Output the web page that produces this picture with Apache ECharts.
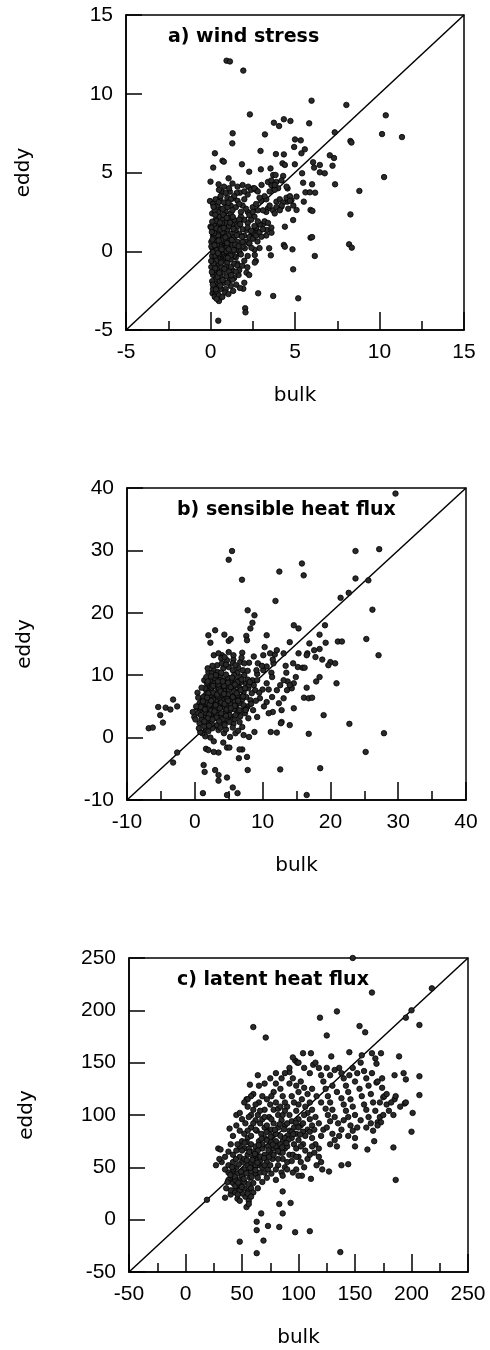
<!DOCTYPE html>
<html>
<head>
<meta charset="utf-8">
<script src="https://cdn.jsdelivr.net/npm/echarts@6/dist/echarts.min.js"></script>
<style>html,body{margin:0;padding:0;background:#fff}#c{width:490px;height:1350px}</style>
</head>
<body>
<div id="c"></div>
<script>
// ---- tick labels ----
var windTicks = [-5, 0, 5, 10, 15];
var sensTicks = [-10, 0, 10, 20, 30, 40];
var latTicks = [-50, 0, 50, 100, 150, 200, 250];

// ---- panel titles / axis names ----
var panelTitles = ['a) wind stress', 'b) sensible heat flux', 'c) latent heat flux'];
var xName = 'bulk';
var yName = 'eddy';

// ---- a) wind stress: [bulk, eddy] ----
var windStress = [
[0.95,12.1],[1.15,12.05],[1.94,11.47],[5.98,9.56],[8.04,9.29],[2.33,8.69],[10.37,8.63],[3.75,8.16],[4.06,7.95],[4.34,8.38],[4.73,8.27],[5.84,8.12],[1.31,7.49],[1.29,6.85],[3.22,7.42],[7.35,7.55],[10.15,7.44],[11.33,7.25],[5.0,7.1],[5.34,7.04],[8.28,7.0],[8.34,6.9],[0.26,6.22],[2.96,6.37],[4.95,6.62],[5.58,6.47],[3.87,6.17],[4.34,6.15],[5.38,6.22],[7.06,6.09],[7.31,5.92],[0.71,5.75],[0.79,5.69],[0.16,5.31],[1.86,5.52],[4.26,5.58],[4.4,5.48],[4.99,5.52],[6.07,5.65],[6.47,5.48],[6.13,5.31],[7.22,5.43],[5.42,4.95],[6.47,5.01],[6.76,4.95],[2.29,5.05],[2.98,5.2],[3.55,5.26],[3.71,4.84],[3.85,4.84],[4.3,4.78],[0.0,4.42],[0.48,4.25],[1.07,4.63],[5.48,4.35],[6.01,4.25],[7.37,4.25],[10.27,4.71],[8.81,3.83],[8.28,2.34],[8.2,0.44],[8.36,0.23],[5.92,0.86],[6.01,0.9],[6.17,-0.3],[4.85,0.12],[4.34,0.4],[4.4,0.29],[3.47,0.19],[3.57,-0.26],[4.89,-1.15],[5.19,-2.99],[3.71,-2.84],[2.82,-2.67],[2.68,-0.62],[2.62,-0.24],[2.05,-3.62],[2.07,-3.88],[2.0,-2.0],[1.94,-2.38],[1.74,-2.33],[1.34,-2.52],[0.46,-4.41],[0.54,-2.99],[0.5,-3.16],[0.12,-2.67],[0.26,-2.78],[1.66,-1.51],[1.15,-1.83],[2.13,-1.36],[2.29,-1.51],[-0.03,3.19],[0.0,1.56],[4.89,1.98],[5.52,3.15],[5.92,2.62],[6.03,2.56],[4.4,1.56],[5.09,2.62],[5.62,3.74],[5.88,3.74],[6.19,3.72],[4.56,3.99],[5.09,3.47],[4.79,3.25],[4.54,3.15],
[3.02,4.21],[3.71,4.1],[3.9,3.15],[4.2,2.83],[3.7,2.6],[3.4,2.73],[1.74,3.72],[1.55,3.7],[1.15,3.78],[1.34,3.36],[0.66,3.78],[0.56,3.36],[0.85,3.04],[2.23,4.1],[2.53,4.0],[2.68,3.9],
[2.13,1.35],[2.43,1.14],[2.72,1.35],[3.12,1.73],[3.32,1.35],[3.61,1.18],[2.53,0.82],[2.29,0.5],[2.03,0.19],[1.74,-0.13],[1.58,-0.77],
[2.2,2.5],[2.5,2.8],[2.7,3.0],[3.0,3.2],[3.3,3.3],[3.5,3.8],[3.7,4.3],[3.9,4.4],[4.0,4.0],[3.6,4.2],[3.8,3.9],[4.1,3.3],[4.3,3.1],[4.5,3.4],[4.7,3.5],[4.2,2.9],[3.9,2.8],[3.5,2.9],[3.3,2.5],[3.1,2.6],[2.8,2.6],[2.6,2.2],[2.4,2.0],[2.2,1.8],[2.0,2.0],[1.8,2.2],[1.6,1.9],[2.9,1.7],[3.2,1.9],[3.4,1.8],[3.6,1.5],[2.7,1.5],[2.5,1.2],[2.3,0.9],[2.1,0.6],[1.9,0.3],[1.7,0.0],[1.5,-0.4],[1.4,-0.8],[1.3,-1.2],[1.2,-1.0],[2.0,3.3],[2.2,3.6],[2.4,3.9],[2.6,4.0],[2.8,3.8],[1.6,3.2],[1.4,3.5],[1.2,2.9],[1.0,3.4],[1.1,4.0],[1.6,4.1],[1.9,4.2],[4.6,2.7],[4.9,2.9],[4.7,3.2],[4.1,2.6],[3.8,2.4],[3.2,3.5],[2.9,3.4],[3.4,4.4],[3.6,4.5],[3.8,4.2],[4.2,4.5],[4.5,4.1],
[0.1,0.2],[0.2,0.5],[0.3,0.8],[0.15,1.0],[0.25,1.3],[0.4,1.6],[0.5,1.2],[0.6,0.9],[0.7,0.5],[0.8,0.2],[0.9,-0.1],[1.0,0.3],[1.1,0.7],[1.2,1.1],[1.0,1.4],[0.9,1.8],[0.7,2.0],[0.5,2.2],[0.3,2.0],[0.2,1.7],[0.1,-0.3],[0.2,-0.6],[0.3,-0.9],[0.4,-1.2],[0.5,-0.8],[0.6,-0.5],[0.7,-0.2],[0.8,-0.6],[0.9,-1.0],[1.0,-0.7],[0.15,-1.5],[0.3,-1.8],[0.45,-2.1],[0.6,-1.6],[0.75,-1.3],[0.05,0.6],[0.35,0.3],[0.55,0.0],[0.65,1.5],[0.85,1.1],[1.3,0.4],[1.4,0.9],[1.5,1.3],[1.3,1.7],[1.1,2.1],[0.9,2.5],[0.6,2.7],[0.4,2.9],[0.8,3.1],[1.0,2.8],[1.2,2.4],[1.4,2.0],[1.6,1.6],[1.7,1.1],[1.6,0.6],[1.5,0.1],[1.4,-0.3],[1.2,-0.5],[1.1,-1.3],[0.95,-1.6],[0.8,-2.0],[0.6,-2.4],[0.4,-2.6],[0.2,-2.2],[0.25,-2.9],[0.5,-2.8],[0.1,-1.9],[0.05,-1.0],[0.05,1.5],[0.1,2.4],[0.3,3.3],[0.6,3.5],[0.9,3.7],[1.2,3.3],[1.5,2.8],[1.8,2.5],[1.9,1.4],[2.0,1.0],[1.9,0.6],[1.8,-0.2],[1.6,-0.9],[1.4,-1.7],[1.2,-2.2],[0.7,-2.9],[0.45,-0.4],[0.55,0.45],[0.75,0.85],[0.35,1.45],[0.45,2.5],[0.7,1.2],[1.05,1.0],[0.85,-0.35],[0.25,0.05],[0.15,-0.05],[0.4,0.1],[0.6,0.25],[0.3,-0.3],[0.5,-0.2],[0.7,0.7],[0.9,0.6],[0.2,0.9],[0.35,-0.6],[0.65,-1.0],[0.05,0.3],[2.2,1.5],[2.4,1.3],[2.6,1.6],[2.8,1.9],[2.3,2.3],[2.5,2.5],[2.1,2.7],[1.9,2.9],[1.7,3.0],[2.0,3.8],[1.3,4.3],[0.8,4.1],[0.5,3.9],[2.3,0.5],[2.5,0.8],[2.7,1.0],[2.9,1.2],[3.1,1.4],[3.3,1.0],[2.9,0.2],[2.6,0.1],[2.2,-0.3],[2.0,-0.6],[1.7,-1.2],[1.3,-1.8],[1.5,-1.3],[0.35,-1.4],[0.55,-1.9],[0.15,-2.4],[0.9,-2.4],[1.0,-2.0],[0.25,2.6],[0.15,3.0],[0.8,2.3],[1.3,2.6],[1.7,2.0],[1.1,1.6],[0.95,0.0],[1.25,-0.2],[0.35,0.6],[0.45,1.0],[0.25,-1.2],
[0.12,0.75],[0.22,1.15],[0.38,0.42],[0.48,0.68],[0.58,1.38],[0.68,1.78],[0.78,1.48],[0.88,0.88],[0.98,0.52],[1.08,0.12],[1.18,-0.28],[0.18,-0.78],[0.28,-1.08],[0.42,-1.62],[0.52,-1.38],[0.62,-0.72],[0.72,-1.82],[0.82,-1.12],[0.92,-0.42],[0.08,-1.32],[0.14,-2.12],[0.32,-2.42],[0.58,-2.18],[0.36,1.92],[0.56,1.82],[0.76,2.32],[0.96,2.12],[1.16,1.82],[1.36,1.42],[1.56,1.02],[1.26,0.72],[1.46,0.42],[0.28,2.32],[0.18,2.82],[0.48,3.12],[0.72,2.68],[1.06,3.08],[1.32,2.18],[1.76,1.72],[1.86,0.92],[1.66,0.32],[1.38,0.08],[1.02,-0.42],[0.66,0.12],[0.44,-0.12],[0.24,0.38],[0.08,1.22],[0.1,1.88],[0.04,-0.62],[0.86,-2.62],[0.36,-3.02],[1.06,-2.72],[1.52,-2.12],[1.22,-1.52],[1.88,-0.92],[2.18,-1.02],[2.42,0.22],[2.78,0.62],[3.02,0.92],[2.62,-0.72]
];

// ---- b) sensible heat flux: [bulk, eddy] ----
var sensibleHeat = [
[29.6,39.1],[5.49,29.9],[5.0,28.5],[6.96,25.3],[12.47,26.6],[15.8,27.9],[16.06,26.0],[23.7,29.9],[27.2,30.2],[23.7,25.5],[25.6,25.2],[22.7,23.2],[21.5,22.4],[11.9,21.9],[26.2,20.5],[7.8,20.4],[8.8,19.6],[8.5,18.4],[8.2,17.5],[3.0,17.2],[2.0,16.4],[2.3,15.2],[4.36,16.5],[5.0,15.5],[5.3,15.8],[7.6,16.3],[7.7,15.6],[10.6,16.4],[14.6,18.0],[15.3,17.5],[19.2,18.0],[18.4,16.5],[19.3,15.2],[18.4,14.2],[21.1,15.4],[21.7,15.4],[25.3,15.8],[27.1,13.2],[14.0,15.3],[16.9,15.1],[16.6,13.5],[17.8,12.9],[18.8,12.5],[20.0,12.1],[20.7,11.9],[19.7,11.6],[18.4,9.7],[17.9,9.0],[20.9,8.7],[16.5,8.0],[16.1,6.4],[16.8,6.3],[17.3,6.4],[14.6,4.7],[12.8,4.4],[19.0,3.6],[22.8,2.2],[14.0,2.0],[12.8,2.5],[12.7,2.3],[16.8,0.6],[27.9,0.7],[25.2,-2.3],[18.5,-4.9],[12.6,-5.1],[16.5,-9.2],[4.75,-9.2],[6.3,-8.9],[5.6,-8.0],[1.2,-8.9],[1.3,-4.4],[1.45,-5.5],[3.0,-5.2],[3.5,-6.0],[3.5,-6.9],[4.75,-6.4],[7.8,-5.2],[6.5,-3.3],[7.7,-3.1],[7.0,-1.9],[6.6,-1.9],[4.75,-1.6],[5.1,-1.6],[3.5,-2.4],[2.8,-2.3],[1.65,-1.8],[2.0,-2.0],[8.8,0.9],[11.2,0.9],[12.1,0.8],[7.2,0.4],[8.0,0.1],[-2.6,-2.4],[-3.2,-4.0],[-6.8,1.5],[-6.2,1.6],[-5.4,4.9],[-4.3,4.8],[-3.6,4.5],[-2.6,5.0],[-3.2,6.1],[-5.1,3.6],[-4.7,2.4],[-0.07,3.3],[0.3,4.8],[0.4,7.2],
[9.3,11.9],[10.1,10.8],[10.6,8.7],[11.3,10.4],[11.6,11.9],[11.8,13.3],[12.1,14.0],[13.1,13.5],[13.4,11.5],[13.5,10.4],[13.7,9.0],[14.6,8.7],[14.3,7.9],[14.9,9.7],[14.5,11.9],[15.2,11.3],[15.9,11.2],[16.2,11.2],[15.3,13.5],[16.5,13.2],[17.6,14.0],[12.1,7.6],[11.4,6.5],[10.6,5.7],[10.2,5.0],[9.6,6.3],[8.9,7.6],[8.5,9.2],[9.2,9.2],[10.0,7.7],[10.9,7.7],[11.4,9.7],[12.6,8.4],[13.1,9.2],[14.0,8.4],[13.6,7.6],[13.1,6.3],[12.4,5.5],[11.5,4.1],[10.9,3.9],[9.2,3.3],[8.6,4.4],[7.8,5.0],[7.4,3.9],[7.9,3.1],[6.6,2.5],[5.7,2.2],[7.0,1.7],[6.0,0.7],[5.2,0.1],[4.3,0.7],[3.5,1.2],[2.8,1.8],[2.3,0.0],[1.55,0.2],[1.1,0.7],[0.8,0.9],[2.8,-0.6],[4.2,-0.8],
[7.0,13.6],[8.0,12.0],[6.7,12.1],[5.7,12.5],[4.75,12.4],[4.0,13.2],[3.9,12.7],[3.3,11.6],[2.8,10.8],[2.0,10.5],[1.4,9.2],[2.3,9.2],[3.0,9.5],[3.8,9.7],[4.5,9.2],[5.2,8.7],[6.0,9.2],[6.7,9.7],[7.5,8.7],[5.7,7.9],[4.75,8.1],[3.8,8.7],[3.2,8.1],[2.3,7.6],[1.55,6.8],[1.1,6.3],[0.7,5.5],[0.8,4.4],[1.3,3.3],[1.8,2.5],[2.0,3.9],[2.8,5.0],[3.3,5.7],[3.8,6.5],[4.5,7.1],[5.2,6.5],[6.0,6.3],[6.7,5.5],[6.1,4.9],[5.2,4.4],[4.5,3.9],[3.8,3.3],[3.0,3.1],[2.3,2.8],[4.0,5.2],[4.75,5.7],[5.5,5.5],[5.0,7.6],[4.3,7.6],[3.5,7.3],[2.8,6.5],[2.0,6.0],[1.4,5.2],[2.0,4.7],[2.8,3.9],[3.4,4.4],[4.2,6.0],[5.0,6.3],[5.7,6.8],[6.6,6.5],[7.2,7.3],[6.4,8.4],[5.3,9.2],[4.4,8.7],[3.7,9.2],[2.9,8.7],[2.1,8.4],[1.7,7.6],[2.4,6.8],[3.2,7.1],[3.9,8.0],[5.3,8.1],[6.1,7.3],[6.7,7.9],[7.6,6.5],[8.2,6.0],[8.4,7.1],[7.9,7.9],[8.7,8.4],[7.2,5.2],[6.3,4.1],[5.6,3.3],[4.85,2.8],[4.2,2.3],[3.3,2.0],[2.6,1.5],[1.7,1.2],[0.7,2.3],[0.5,3.9],[1.0,5.2],[1.25,6.5],[1.8,8.7],[1.7,9.7],[2.5,10.3],[3.4,10.5],[4.2,11.1],[5.0,11.3],[5.6,10.8],[6.3,10.4],[7.1,10.8],[7.8,10.7],[5.6,11.9],[6.4,11.2],[4.0,11.9],[2.8,13.2],[3.5,13.5],[4.4,12.9],[5.0,13.7],[5.7,13.2],
[9.2,10.2],[9.1,10.8],[8.7,13.0],[10.1,13.2],[10.3,14.5],[11.1,13.5],[11.5,12.5],[10.6,11.4],[9.9,11.5],
[3.6,6.2],[4.1,6.8],[4.6,6.6],[3.1,6.0],[2.6,5.5],[3.9,5.6],[4.4,4.8],[3.5,5.0],[2.4,4.3],[1.6,4.0],[1.2,4.7],[2.2,3.4],[3.2,3.6],[4.8,5.1],[5.4,6.0],[5.9,5.8],[6.3,6.8],[5.8,7.4],[4.9,6.9],[3.4,6.6],[2.7,7.2],[2.0,7.1],[1.5,7.9],[2.5,8.0],[3.6,7.8],[4.3,8.3],[4.9,9.6],[5.8,10.0],[6.8,8.9],[7.0,6.1],[6.9,4.3],[7.6,4.6],[8.3,5.4],[9.0,5.9],[9.5,7.2],[8.0,8.4],[3.0,4.6],[1.9,5.5],[1.0,3.0],[0.6,1.5],[2.0,1.0],[3.8,1.6],[4.6,1.3],[5.6,1.6],[6.4,1.1],[4.0,2.9],[2.5,2.2],[1.4,1.8],[0.9,3.6],[5.1,3.6],[5.9,3.0],[6.7,3.4],[4.7,4.5],
[2.2,5.3],[2.7,6.1],[3.3,6.9],[3.8,7.4],[4.3,7.0],[4.8,6.2],[5.3,5.3],[5.8,4.6],[3.1,5.2],[2.4,5.9],[1.8,6.4],[1.2,5.8],[0.9,4.9],[1.5,4.5],[2.1,3.7],[2.9,4.2],[3.7,4.7],[4.4,5.4],[4.9,5.9],[5.6,6.5],[6.2,7.1],[6.8,7.6],[6.3,8.9],[5.5,9.6],[4.6,10.1],[3.9,10.4],[3.1,10.0],[2.4,9.8],[1.9,9.0],[2.7,8.3],[3.5,8.5],[4.1,9.0],[4.9,8.8],[5.9,8.5],[6.9,9.3],[7.3,10.0],[7.8,9.3],[8.1,8.9],[7.4,7.9],[7.1,6.6],[6.4,5.9],[5.9,5.1],[5.3,4.7],[4.6,3.5],[3.9,3.9],[3.2,3.2],[2.6,2.9],[1.9,3.1],[1.4,2.6],[2.1,1.9],[3.6,2.6],[4.4,2.0],[5.1,2.5],[6.0,3.6],[6.6,4.4],[7.5,4.4],[3.4,9.0],[2.6,11.5],[1.9,11.1],[4.6,11.7],[6.0,11.6],[7.3,11.9],[6.9,12.8],[1.0,8.0],[0.5,6.4],[0.2,5.0],[-0.3,4.1],[0.1,2.9]
];

// ---- c) latent heat flux: [bulk, eddy] ----
var latentHeat = [
[148,250],[218,221],[165,217],[200,200],[195,193],[207,186],[134,199],[119,193],[125,176],[154,185],[159,179],[60,184],[71,174],[104,159],[111,159],[145,160],[156,157],[165,159],[173,159],[189,156],[207,137],[207,119],[201,102],[200,84],[184,69],[186,38],[168,154],[169,149],[129,156],[113,148],[97,152],[99,150],[92,141],[64,138],[57,129],[54,115],[60,105],[39,87],[29,68],[31,67],[27,52],[19,19],[35,21],[40,24],[48,-21],[63,-10],[63,-2],[67,6],[63,-32],[69,-20],[73,-6],[83,-7],[86,6],[83,15],[93,16],[86,27],[97,-12],[110,-11],[137,-31],[174,135],[169,131],[185,138],[193,140],[195,134],[175,117],[185,115],[194,111],[195,112],[170,93],[173,93],[167,75],[161,67],[150,70],[138,52],[144,53],[127,46],[121,48],[111,39],[103,42],
[40,40],[42,35],[45,30],[43,45],[47,38],[50,42],[48,33],[52,36],[55,28],[53,22],[50,25],[46,20],[48,18],[56,18],[55,25],[58,30],[60,35],[57,40],[62,44],[60,50],[55,52],[50,55],[48,60],[45,50],[42,55],[38,45],[35,48],[38,38],[36,30],[40,28],[44,26],[52,48],[56,46],[58,55],[62,58],[65,52],[63,62],[60,65],[55,62],[52,68],[48,70],[45,66],[50,75],[55,78],[58,72],[62,70],[65,75],[68,68],[70,62],[72,55],[68,50],[66,45],[64,40],[70,45],[73,48],[75,52],[77,58],[75,64],[73,70],[70,78],[67,82],[63,85],[58,88],[55,85],[52,82],[48,85],[45,90],[42,80],[40,72],[38,65],[35,60],[32,55],[30,58],[45,100],[48,102],[55,108],[58,100],[62,95],[66,92],[70,88],[74,85],[77,80],[80,75],[82,70],[78,68],[84,64],[86,58],[82,52],[80,48],[85,45],[88,50],[90,55],[92,62],[88,68],[86,75],[90,80],[92,85],[88,90],[85,95],[82,100],[78,105],[75,110],[72,115],[68,118],[65,112],[70,105],[74,98],[78,92],[82,88],[80,82],[84,80],[94,78],[96,72],[98,68],[95,62],[100,60],[102,55],[105,50],[98,48],[95,45],[100,42],[108,58],[110,62],[106,66],[104,72],[100,76],[98,82],[96,88],[94,94],[92,100],[90,108],[88,112],[86,118],[84,125],[80,130],[78,122],[76,118],[92,130],[95,135],[98,128],[100,122],[103,115],[106,108],[108,102],[110,96],[112,90],[108,86],[104,84],[102,90],[100,96],[98,104],[96,112],[94,118],[100,110],[105,100],[112,78],[115,72],[118,68],[114,64],[118,60],[120,55],[116,52],[112,70],[120,80],[122,86],[118,92],[115,98],[112,105],[110,112],[108,120],[105,126],[102,132],[112,125],[116,118],[120,112],[124,106],[126,100],[128,94],[125,88],[130,82],[132,76],[128,72],[134,70],[136,80],[138,86],[135,92],[132,98],[130,105],[128,112],[126,118],[124,125],[122,132],[120,138],[118,145],[130,128],[134,122],[138,116],[140,110],[142,104],[144,98],[140,95],[146,90],[148,85],[144,80],[150,78],[152,88],[155,95],[150,100],[148,108],[146,115],[144,122],[142,128],[140,135],[138,140],[136,145],[145,138],[150,132],[154,125],[156,118],[158,110],[160,105],[162,98],[164,92],[160,88],[166,85],[170,90],[172,98],[168,104],[166,112],[164,120],[162,128],[160,135],[158,142],[165,140],[170,132],[174,126],[176,118],[178,110],[180,104],[182,112],[178,120],[186,118],[190,108],[184,100],[175,100],[172,112],[152,140],[148,145],[155,150],[128,138],[132,143],[125,145],[115,150],[110,140],[105,145],[100,150],[95,155],[92,145],[88,140],[85,135],[80,140],[75,135],[70,130],[65,128],[60,120],[62,110],[58,118],[55,115],[52,112],[50,96],[53,92],[56,98],
[60,60],[64,66],[68,72],[72,76],[76,74],[80,70],[84,72],[88,78],[76,86],[72,90],[68,96],[64,100],[60,92],[56,68],[52,58],[46,44],[44,38],[42,48],[38,52],[58,46],[62,52],[66,56],[70,52],[74,60],[78,62],[82,58],[86,64],[90,70],[94,84],[90,92],[86,100],[82,106],[80,112],[84,108],[88,104],[76,96],[70,98],[66,104],[62,86],[58,80],[54,74],[50,66],[46,72],[42,62],[100,88],[104,92],[106,80],[110,84],[114,86],[102,70],[98,60],[94,56],[90,48],[86,42],[80,38],[76,44],[72,40],[68,36],[64,30],[60,26],[58,22],[54,12],[56,15],[52,30],[48,28],[44,32],
[43.5,41.2],[46.7,35.4],[49.2,45.8],[51.6,39.1],[53.8,44.3],[57.3,49.6],[59.1,57.2],[61.4,62.8],[63.7,54.5],[66.2,60.3],[54.2,56.7],[47.1,52.8],[44.6,57.9],[41.3,50.2],[39.7,42.6],[37.2,35.8],[46.2,24.1],[49.8,31.2],[55.7,34.1],[58.6,40.7],[61.9,47.3],[64.8,71.2],[67.3,77.4],[71.6,83.6],[75.3,79.2],[79.1,85.7],[83.4,91.2],[87.1,86.3],[91.2,76.4],[95.3,81.7],[97.6,92.8],[101.4,81.3],[89.3,73.1],[85.6,69.2],[81.7,65.4],[77.2,71.8],[73.4,66.3],[69.5,58.9],[56.4,64.7],[52.3,73.4]
];

var chart = echarts.init(document.getElementById('c'), null, {renderer: 'canvas'});

var tickFont = '"Liberation Sans Narrow", "Liberation Sans", Arial, sans-serif';
var nameFont = '"DejaVu Sans", sans-serif';

var grids = [
  {left: 126, top: 15, width: 338, height: 315},
  {left: 127, top: 488, width: 339, height: 312},
  {left: 129, top: 958, width: 339, height: 314}
];
var tickSets = [windTicks, sensTicks, latTicks];
var datasets = [windStress, sensibleHeat, latentHeat];
var titleTops = [28, 501, 971];
var titleLefts = [168, 177, 177];

var option = {
  animation: false,
  backgroundColor: '#fff',
  title: panelTitles.map(function (t, i) {
    return {
      text: t, left: titleLefts[i], top: titleTops[i], padding: 0,
      textStyle: {fontFamily: nameFont, fontSize: 19, fontWeight: 'bold', color: '#000'}
    };
  }),
  grid: grids.map(function (g) {
    return {left: g.left, top: g.top, width: g.width, height: g.height, show: true,
      borderColor: '#000', borderWidth: 1.5, backgroundColor: 'transparent', containLabel: false};
  }),
  xAxis: tickSets.map(function (tk, i) {
    return {
      type: 'value', gridIndex: i, min: tk[0], max: tk[tk.length - 1], interval: tk[1] - tk[0],
      name: xName, nameLocation: 'middle', nameGap: 56,
      nameTextStyle: {fontFamily: nameFont, fontSize: 20, color: '#000'},
      axisLine: {show: true, onZero: false, lineStyle: {color: '#000', width: 1.5}},
      axisTick: {show: true, inside: true, length: 18, lineStyle: {color: '#000', width: 1.5}},
      minorTick: {show: true, splitNumber: 2, length: 9, lineStyle: {color: '#000', width: 1.5}},
      splitLine: {show: false}, minorSplitLine: {show: false},
      axisLabel: {margin: 12, color: '#000', fontSize: 21, fontFamily: tickFont,
        showMinLabel: true, showMaxLabel: true}
    };
  }),
  yAxis: tickSets.map(function (tk, i) {
    return {
      type: 'value', gridIndex: i, min: tk[0], max: tk[tk.length - 1], interval: tk[1] - tk[0],
      name: yName, nameLocation: 'middle', nameGap: 92, nameRotate: 90,
      nameTextStyle: {fontFamily: nameFont, fontSize: 20, color: '#000'},
      axisLine: {show: true, onZero: false, lineStyle: {color: '#000', width: 1.5}},
      axisTick: {show: true, inside: true, length: 16, lineStyle: {color: '#000', width: 1.5}},
      splitLine: {show: false},
      axisLabel: {margin: 13, color: '#000', fontSize: 21, fontFamily: tickFont,
        showMinLabel: true, showMaxLabel: true}
    };
  }),
  series: []
};

datasets.forEach(function (d, i) {
  var tk = tickSets[i];
  var lo = tk[0], hi = tk[tk.length - 1];
  option.series.push({
    type: 'line', xAxisIndex: i, yAxisIndex: i, data: [[lo, lo], [hi, hi]],
    symbol: 'none', silent: true, lineStyle: {color: '#000', width: 1.5}, z: 1
  });
  option.series.push({
    type: 'scatter', xAxisIndex: i, yAxisIndex: i, data: d, symbol: 'circle', symbolSize: 5.5,
    itemStyle: {color: '#2a2a2a', borderColor: '#000', borderWidth: 0.8, opacity: 1}, z: 2
  });
});

chart.setOption(option);
</script>
</body>
</html>
